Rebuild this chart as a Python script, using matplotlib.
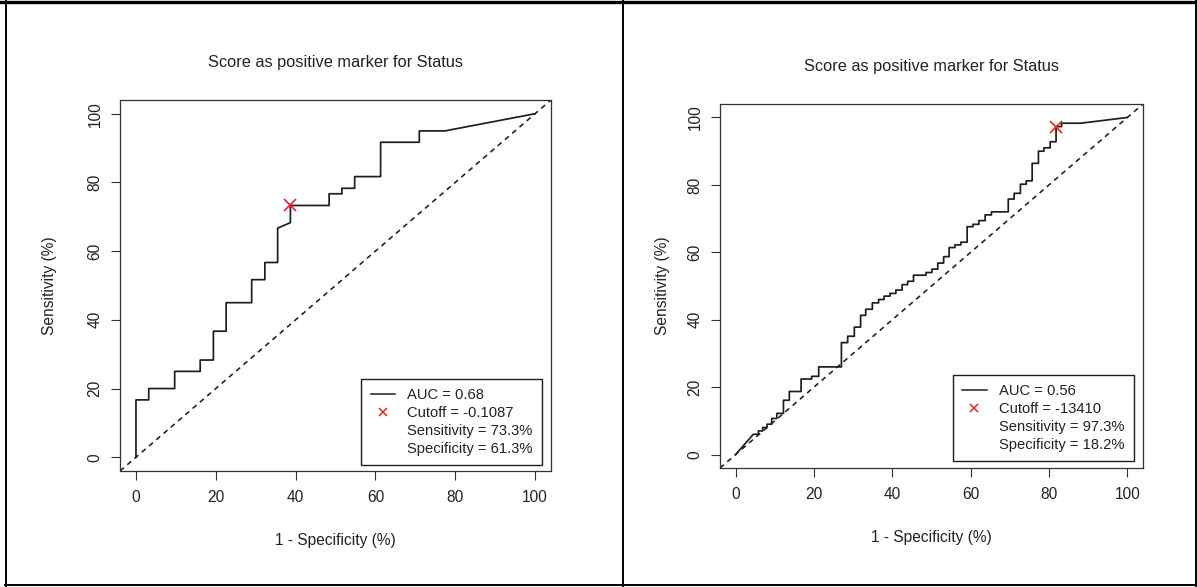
import matplotlib
matplotlib.use('Agg')
import matplotlib.pyplot as plt
from matplotlib.lines import Line2D
from matplotlib import rcParams

# ---------------- config ----------------
rcParams['font.family'] = ['Liberation Sans', 'DejaVu Sans']
rcParams['axes.unicode_minus'] = False

COLOR_CURVE = '#1e1e1e'   # ROC step line
COLOR_CUT = '#e2232b'     # cutoff cross
COLOR_TEXT = '#222222'
COLOR_BOX = '#333333'

OUTPUT_FILE = 'out.png'
FIG_W, FIG_H = 1197, 587  # pixels at dpi 100

TITLE = 'Score as positive marker for Status'
X_LABEL = '1 - Specificity (%)'
Y_LABEL = 'Sensitivity (%)'
TICKS = [0, 20, 40, 60, 80, 100]

# ---------------- data ----------------
# left panel (1 - specificity, sensitivity)
left_fpr = [0, 0, 3.2, 3.2, 9.7, 9.7, 16.1, 16.1, 19.4, 19.4, 22.6, 22.6,
            29.0, 29.0, 32.3, 32.3, 35.5, 35.5, 38.7, 38.7, 48.4, 48.4,
            51.6, 51.6, 54.8, 54.8, 61.3, 61.3, 71.0, 71.0, 77.4, 100]
left_tpr = [0, 16.7, 16.7, 20.0, 20.0, 25.0, 25.0, 28.3, 28.3, 36.7, 36.7, 45.0,
            45.0, 51.7, 51.7, 56.7, 56.7, 66.7, 68.3, 73.3, 73.3, 76.7,
            76.7, 78.3, 78.3, 81.7, 81.7, 91.7, 91.7, 95.0, 95.0, 100]
left_cut_fpr = 38.7
left_cut_tpr = 73.3
left_legend = ['AUC = 0.68', 'Cutoff = -0.1087',
               'Sensitivity = 73.3%', 'Specificity = 61.3%']

# right panel
right_fpr = [0, 4.5, 5.8, 5.8, 6.9, 6.9, 8.0, 8.0, 9.2, 9.2, 10.5, 10.5,
             12.2, 12.2, 13.7, 13.7, 16.7, 16.7, 19.4, 19.4, 21.2, 21.2,
             27.0, 27.0, 28.6, 28.6, 30.3, 30.3, 31.9, 31.9, 33.2, 33.2,
             34.9, 34.9, 36.5, 36.5, 37.9, 37.9, 39.4, 39.4, 40.9, 40.9,
             42.5, 42.5, 43.9, 43.9, 45.4, 45.4, 48.6, 48.6, 50.1, 50.1,
             51.6, 51.6, 53.1, 53.1, 54.5, 54.5, 56.0, 56.0, 57.5, 57.5,
             59.1, 59.1, 60.6, 60.6, 62.1, 62.1, 63.7, 63.7, 65.3, 65.3,
             69.6, 69.6, 71.1, 71.1, 72.7, 72.7, 74.2, 74.2, 75.7, 75.7,
             77.3, 77.3, 78.7, 78.7, 80.3, 80.3, 81.8, 81.8, 83.2, 83.2,
             88.1, 100]
right_tpr = [0, 6.0, 6.0, 7.0, 7.0, 8.0, 8.0, 9.0, 9.0, 10.7, 10.7, 12.2,
             12.2, 16.1, 16.1, 18.7, 18.7, 22.4, 22.4, 23.2, 23.2, 26.0,
             26.0, 33.2, 33.2, 35.1, 35.1, 37.8, 37.8, 41.3, 41.3, 43.1,
             43.1, 45.0, 45.0, 46.0, 46.0, 47.0, 47.0, 47.8, 47.8, 48.8,
             48.8, 50.4, 50.4, 51.4, 51.4, 53.2, 53.2, 54.0, 54.0, 55.0,
             55.0, 56.8, 56.8, 58.7, 58.7, 61.4, 61.4, 62.2, 62.2, 63.0,
             63.0, 67.6, 67.6, 68.3, 68.3, 69.4, 69.4, 71.1, 71.1, 72.0,
             72.0, 75.8, 75.8, 77.5, 77.5, 80.2, 80.2, 81.2, 81.2, 86.4,
             86.4, 90.0, 90.0, 91.0, 91.0, 92.8, 92.8, 97.3, 97.3, 98.3,
             98.3, 100]
right_cut_fpr = 81.8
right_cut_tpr = 97.3
right_legend = ['AUC = 0.56', 'Cutoff = -13410',
                'Sensitivity = 97.3%', 'Specificity = 18.2%']


def px_rect(left, top, right, bottom):
    """pixel box -> figure fraction [l, b, w, h]"""
    return [left / FIG_W, 1 - bottom / FIG_H,
            (right - left) / FIG_W, (bottom - top) / FIG_H]


def draw_roc(ax, fpr, tpr, cut_x, cut_y, labels, anchor, ylabelpad):
    ax.plot(fpr, tpr, color=COLOR_CURVE, lw=1.25, zorder=3)
    ax.axline((0, 0), (100, 100), color=COLOR_CURVE, lw=1.15,
              ls=(0, (3.2, 2.8)), zorder=2)
    ax.plot([cut_x], [cut_y], ls='none', marker='x', color=COLOR_CUT,
            ms=9, mew=1.2, zorder=4)

    ax.set_xlim(-4, 104)
    ax.set_ylim(-4, 104)
    ax.set_xticks(TICKS)
    ax.set_yticks(TICKS)
    ax.set_xticklabels([str(t) for t in TICKS])
    ax.set_yticklabels([str(t) for t in TICKS], rotation=90, va='center')
    ax.tick_params(axis='both', length=6.5, width=0.8, colors=COLOR_BOX,
                   labelsize=11.2, labelcolor=COLOR_TEXT)
    ax.tick_params(axis='x', pad=7.5)
    ax.tick_params(axis='y', pad=6)
    for sp in ax.spines.values():
        sp.set_linewidth(0.9)
        sp.set_color(COLOR_BOX)

    ax.set_title(TITLE, fontsize=11.8, pad=23.5, color=COLOR_TEXT)
    ax.set_xlabel(X_LABEL, fontsize=11.2, labelpad=19.5, color=COLOR_TEXT)
    ax.set_ylabel(Y_LABEL, fontsize=11.2, labelpad=ylabelpad, color=COLOR_TEXT)

    handles = [Line2D([], [], color=COLOR_CURVE, lw=1.1),
               Line2D([], [], ls='none', marker='x', color=COLOR_CUT,
                      ms=6, mew=1.1),
               Line2D([], [], ls='none'),
               Line2D([], [], ls='none')]
    leg = ax.legend(handles, labels, loc='lower right', bbox_to_anchor=anchor,
                    borderaxespad=0, fancybox=False, framealpha=1,
                    edgecolor=COLOR_CURVE, fontsize=10.6, handlelength=1.65,
                    handletextpad=0.85, borderpad=0.65, labelspacing=0.26)
    leg.get_frame().set_linewidth(1.0)
    for t in leg.get_texts():
        t.set_color(COLOR_TEXT)


def draw_frame(fig):
    # table-like border around the two panels
    def hline(y, x0, x1, w):
        fig.add_artist(Line2D([x0 / FIG_W, x1 / FIG_W], [1 - y / FIG_H] * 2,
                              transform=fig.transFigure, color='k', lw=w))

    def vline(x, y0, y1, w):
        fig.add_artist(Line2D([x / FIG_W] * 2, [1 - y0 / FIG_H, 1 - y1 / FIG_H],
                              transform=fig.transFigure, color='k', lw=w))

    hline(2, 0, FIG_W, 2.4)
    hline(585, 5, 1197, 1.4)
    vline(5.5, 0, 587, 1.4)
    vline(623, 0, 587, 1.4)
    vline(1196, 0, 587, 1.4)


def main():
    fig = plt.figure(figsize=(FIG_W / 100, FIG_H / 100), dpi=100)
    ax1 = fig.add_axes(px_rect(120, 100, 551, 471))
    ax2 = fig.add_axes(px_rect(720, 104, 1143, 468))

    draw_roc(ax1, left_fpr, left_tpr, left_cut_fpr, left_cut_tpr,
             left_legend, (0.980, 0.015), ylabelpad=22)
    draw_roc(ax2, right_fpr, right_tpr, right_cut_fpr, right_cut_tpr,
             right_legend, (0.979, 0.018), ylabelpad=13)

    draw_frame(fig)
    fig.savefig(OUTPUT_FILE, dpi=100)


if __name__ == '__main__':
    main()
